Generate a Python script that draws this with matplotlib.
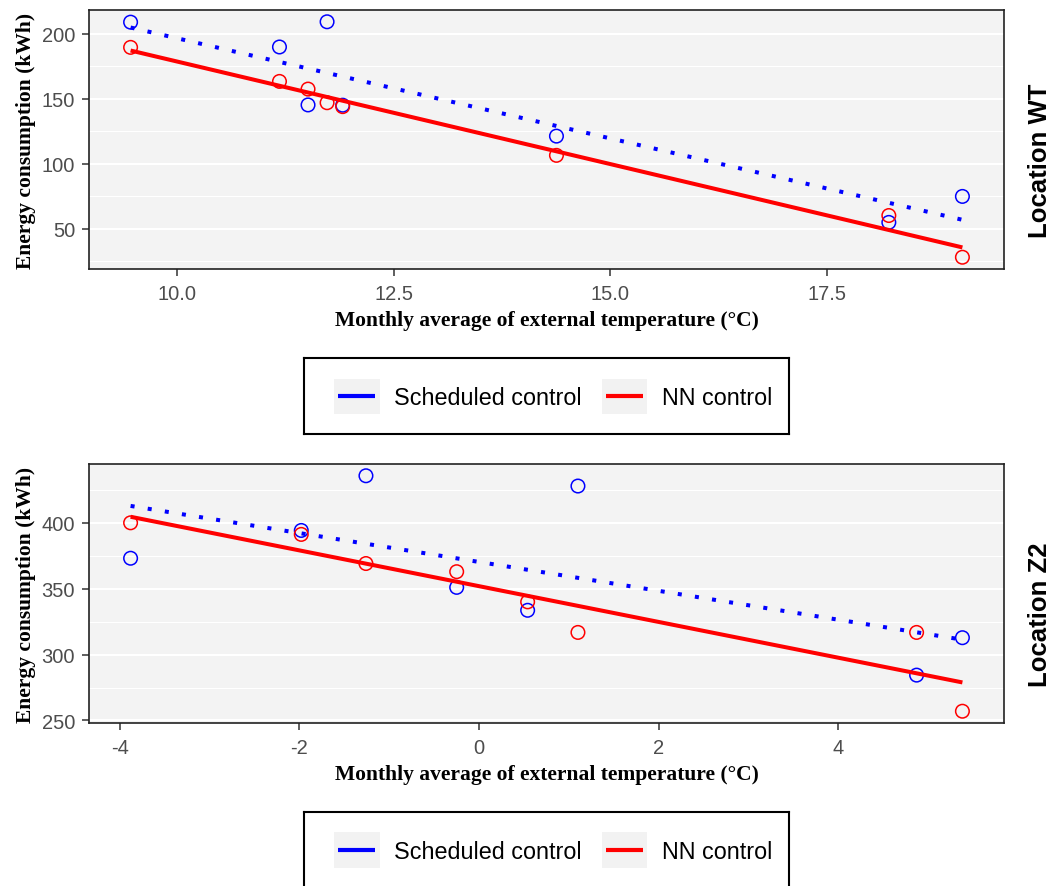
import matplotlib
matplotlib.use('Agg')
import matplotlib.pyplot as plt
import numpy as np
from matplotlib.legend_handler import HandlerBase
from matplotlib.lines import Line2D
from matplotlib.patches import Rectangle
from matplotlib.ticker import FormatStrFormatter, MultipleLocator

plt.rcParams['axes.unicode_minus'] = False

SANS = 'Liberation Sans'
SERIF = 'Liberation Serif'
BLUE = '#0000FF'
RED = '#FF0000'
PANEL_BG = '#F3F3F3'
KEY_BG = '#F2F2F2'

# monthly mean outdoor temperature (degC) and energy use (kWh)
wt_temp = [9.46, 11.18, 11.51, 11.73, 11.91, 14.38, 18.22, 19.07]
wt_sched = [208.9, 189.8, 145.2, 209.2, 145.0, 121.2, 54.8, 74.8]
wt_nn = [189.5, 163.3, 157.4, 146.9, 143.9, 106.4, 60.1, 28.0]

z2_temp = [-3.88, -1.98, -1.26, -0.25, 0.54, 1.10, 4.87, 5.38]
z2_sched = [373.1, 394.2, 435.7, 351.0, 333.6, 427.9, 284.4, 312.8]
z2_nn = [400.0, 391.2, 369.1, 362.9, 340.0, 316.8, 316.8, 257.0]

wt_xticks = [10.0, 12.5, 15.0, 17.5]
wt_yticks = [50, 100, 150, 200]
z2_xticks = [-4, -2, 0, 2, 4]
z2_yticks = [250, 300, 350, 400]

series_labels = ['Scheduled control', 'NN control']
xlabel = 'Monthly average of external temperature (°C)'
ylabel = 'Energy consumption (kWh)'


class KeyHandler(HandlerBase):
    """ggplot-style legend key: grey square with a short thick line."""

    def create_artists(self, legend, orig_handle, xdescent, ydescent,
                       width, height, fontsize, trans):
        bg = Rectangle((-xdescent, -ydescent), width, height,
                       facecolor=KEY_BG, edgecolor='none', transform=trans)
        pad = 0.09 * width
        yc = -ydescent + height / 2
        ln = Line2D([-xdescent + pad, -xdescent + width - pad], [yc, yc],
                    color=orig_handle.get_color(), lw=3.0,
                    solid_capstyle='butt', transform=trans)
        return [bg, ln]


def draw_panel(ax, temp, sched, nn, xticks, yticks, xfmt, strip):
    ax.set_facecolor(PANEL_BG)
    ax.scatter(temp, sched, s=95, facecolors='none', edgecolors=BLUE,
               linewidths=1.1, zorder=2)
    ax.scatter(temp, nn, s=95, facecolors='none', edgecolors=RED,
               linewidths=1.1, zorder=2)

    t = np.asarray(temp)
    xs = np.array([t.min(), t.max()])
    for ys, color, ls in ((sched, BLUE, (0, (1, 3.3))), (nn, RED, '-')):
        k, b = np.polyfit(t, ys, 1)
        ax.plot(xs, k * xs + b, color=color, lw=2.9, ls=ls,
                dash_capstyle='butt', solid_capstyle='butt', zorder=3)

    ax.margins(0.05)
    ax.set_xticks(xticks)
    ax.set_yticks(yticks)
    if xfmt:
        ax.xaxis.set_major_formatter(FormatStrFormatter(xfmt))
    ax.yaxis.set_minor_locator(MultipleLocator(25))
    ax.set_axisbelow(True)
    ax.grid(which='major', axis='y', color='white', lw=1.5)
    ax.grid(which='minor', axis='y', color='white', lw=0.8)
    ax.grid(which='major', axis='x', visible=False)
    ax.tick_params(which='minor', left=False, bottom=False)
    ax.tick_params(which='major', length=5, width=1.1, color='#333333',
                   labelcolor='#4D4D4D', labelsize=14.5)
    ax.tick_params(axis='x', pad=6)
    ax.tick_params(axis='y', pad=5)
    for lab in ax.get_xticklabels() + ax.get_yticklabels():
        lab.set_family(SANS)
    for sp in ax.spines.values():
        sp.set_color('#222222')
        sp.set_linewidth(1.2)

    ax.set_xlabel(xlabel, family=SERIF, weight='bold', fontsize=15.5,
                  color='black', labelpad=5)
    ax.set_ylabel(ylabel, family=SERIF, weight='bold', fontsize=15.5,
                  color='black', labelpad=4)
    ax.text(1.039, 0.42, strip, transform=ax.transAxes, rotation=90,
            ha='center', va='center', family=SANS, weight='bold',
            fontsize=18.5, color='black')


def draw_legend(fig, rect):
    lax = fig.add_axes(rect)
    lax.set_xticks([])
    lax.set_yticks([])
    lax.set_facecolor('white')
    for sp in lax.spines.values():
        sp.set_color('black')
        sp.set_linewidth(1.5)
    handles = [Line2D([], [], color=c, label=l)
               for c, l in zip([BLUE, RED], series_labels)]
    lax.legend(handles=handles, handler_map={Line2D: KeyHandler()},
               loc='center left', bbox_to_anchor=(0.0619, 0.5), ncol=2,
               frameon=False, borderpad=0, borderaxespad=0,
               handlelength=1.95, handleheight=1.95, handletextpad=0.64,
               columnspacing=0.85, prop={'family': SANS, 'size': 16.8})


fig = plt.figure(figsize=(10.55, 8.87), dpi=100)
ax_wt = fig.add_axes([0.08436, 0.69560, 0.8673, 0.2920])
ax_z2 = fig.add_axes([0.08436, 0.18377, 0.8673, 0.2920])

draw_panel(ax_wt, wt_temp, wt_sched, wt_nn, wt_xticks, wt_yticks, '%.1f',
           'Location WT')
draw_panel(ax_z2, z2_temp, z2_sched, z2_nn, z2_xticks, z2_yticks, None,
           'Location Z2')

draw_legend(fig, [0.28815, 0.50958, 0.45972, 0.08535])
draw_legend(fig, [0.28815, -0.00225, 0.45972, 0.08535])

fig.savefig('out.png', dpi=100)
